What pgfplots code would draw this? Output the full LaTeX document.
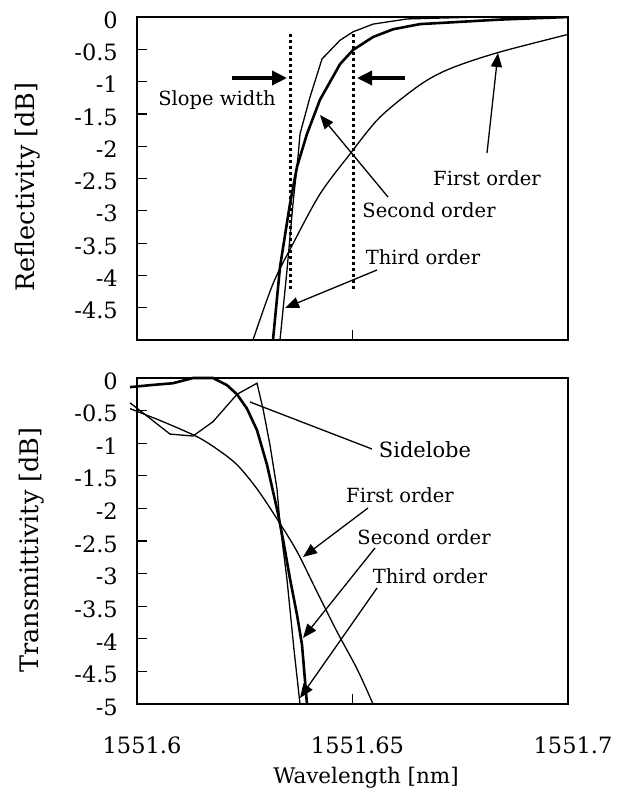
\documentclass[border=0pt]{standalone}
\usepackage{pgfplots}
\pgfplotsset{compat=1.18}
\usepackage{fontspec}
\setmainfont{DejaVu Serif}
\usetikzlibrary{arrows.meta}

% wavelengths are given as 1551.xxxx; the integer part is stripped as a string
% so that TeX keeps full precision on the 0.1 nm wide axis
\makeatletter
\def\wlstr#1.#2.#3\relax{%
  \def\wlint{#1}\def\wlfrac{#2}%
  \ifx\wlfrac\empty\def\wlfrac{0}\fi
  \ifnum\wlint=1551 \edef\pgfmathresult{0.\wlfrac}\else\edef\pgfmathresult{\wlint.\wlfrac}\fi}
\def\wlfpusplit#1Y#2e#3]#4\relax{%
  \def\wlflag{#1}\def\wlexp{#3}%
  \ifnum\wlflag=1 \ifnum\wlexp=3 \wlmant#2\relax\else\wlfallback\fi\else\wlfallback\fi}
\def\wlmant#1.#2#3#4#5\relax{%
  \ifnum#1#2#3#4=1551 \def\wlfrac{#5}\ifx\wlfrac\empty\def\wlfrac{0}\fi
     \edef\pgfmathresult{0.\wlfrac}\else\wlfallback\fi}
\def\wlfallback{\pgfmathfloattofixed{\wltmp}}
\def\wltrafo#1{%
  \edef\wltmp{#1}%
  \expandafter\pgfutil@in@\expandafter Y\expandafter{\wltmp}%
  \ifpgfutil@in@
    \expandafter\wlfpusplit\wltmp\relax
  \else
    \expandafter\wlstr\wltmp..\relax
  \fi}
\makeatother
\pgfplotsset{
  x coord trafo/.code={\wltrafo{#1}},
  x coord inv trafo/.code={\pgfmathparse{#1+1551}},
}

\pgfplotsset{
  common/.style={
    scale only axis, width=431pt,
    xmin=1551.6, xmax=1551.7, ymin=-5, ymax=0,
    tick align=inside, major tick length=10pt,
    xtick pos=bottom, ytick pos=left,
    axis line style={line width=1.4pt},
    every tick/.style={line width=1.2pt, black},
    yticklabel style={font=\fontsize{22.5}{25}\selectfont, anchor=east, inner sep=0pt, xshift=-19pt, yshift=-3pt},
    xticklabel style={font=\fontsize{22.5}{25}\selectfont, anchor=center, inner sep=0pt, yshift=-41pt, xshift=5pt},
  },
  thin/.style={black, line width=1.3pt},
  thick/.style={black, line width=2.6pt},
}

\tikzset{
  ann/.style={font=\fontsize{19.5}{22}\selectfont, inner sep=0pt},
  arr/.style={line width=1.3pt, -{Triangle[length=14pt,width=11pt]}},
  sarr/.style={line width=3.4pt, -{Triangle[length=15pt,width=14pt]}},
}

\begin{document}
\begin{tikzpicture}[x=1pt,y=1pt]
\useasboundingbox (0,0) rectangle (622,-789);

% ---------------- Reflectivity ----------------
\begin{axis}[common, at={(137pt,-340pt)}, anchor=south west, height=323pt,
  xtick={1551.65}, xticklabels={},
  ytick={-4.5,-4,-3.5,-3,-2.5,-2,-1.5,-1,-0.5,0},
  yticklabels={-4.5,-4,-3.5,-3,-2.5,-2,-1.5,-1,-0.5,0}]
% First order
\addplot[thin, smooth, tension=0.5] coordinates {
 (1551.62691,-5.00) (1551.63155,-4.13) (1551.63619,-3.51) (1551.64246,-2.74)
 (1551.64942,-2.12) (1551.65638,-1.55) (1551.66566,-1.05) (1551.67262,-0.80)
 (1551.68376,-0.55) (1551.70000,-0.27)};
% Second order
\addplot[thick] coordinates {
 (1551.63155,-5.00) (1551.63318,-3.87) (1551.63550,-2.89) (1551.63712,-2.32)
 (1551.63944,-1.81) (1551.64246,-1.28) (1551.64710,-0.73) (1551.65012,-0.51)
 (1551.65476,-0.31) (1551.65940,-0.19) (1551.66566,-0.11) (1551.68422,-0.04)
 (1551.70000,0.00)};
% Third order
\addplot[thin] coordinates {
 (1551.63318,-5.00) (1551.63480,-3.92) (1551.63619,-2.89) (1551.63735,-2.17)
 (1551.63782,-1.81) (1551.64014,-1.24) (1551.64292,-0.65) (1551.64710,-0.36)
 (1551.65012,-0.23) (1551.65476,-0.11) (1551.66265,-0.03) (1551.68000,0.00)
 (1551.70000,0.00)};
\end{axis}

% ---------------- Transmittivity ----------------
\begin{axis}[common, at={(137pt,-704pt)}, anchor=south west, height=326pt, clip=false,
  xtick={1551.6,1551.65,1551.7}, xticklabels={1551.6,1551.65,1551.7},
  ytick={-5,-4.5,-4,-3.5,-3,-2.5,-2,-1.5,-1,-0.5,0},
  yticklabels={-5,-4.5,-4,-3.5,-3,-2.5,-2,-1.5,-1,-0.5,0}]
% First order
\addplot[thin, smooth, tension=0.5] coordinates {
 (1551.59838,-0.47) (1551.60603,-0.67) (1551.61392,-0.90) (1551.61856,-1.09)
 (1551.62320,-1.33) (1551.62784,-1.70) (1551.63248,-2.16) (1551.63712,-2.66)
 (1551.64176,-3.28) (1551.64640,-3.89) (1551.65104,-4.46) (1551.65476,-5.00)};
% Second order
\addplot[thick] coordinates {
 (1551.59838,-0.14) (1551.60302,-0.11) (1551.60835,-0.08) (1551.61299,0.00)
 (1551.61763,0.00) (1551.62088,-0.11) (1551.62320,-0.25) (1551.62552,-0.47)
 (1551.62784,-0.80) (1551.63016,-1.33) (1551.63248,-2.01) (1551.63387,-2.47)
 (1551.63550,-3.08) (1551.63712,-3.63) (1551.63828,-4.09) (1551.63944,-5.00)};
% Third order
\addplot[thin] coordinates {
 (1551.59838,-0.38) (1551.60766,-0.86) (1551.61299,-0.89) (1551.61763,-0.67)
 (1551.62320,-0.25) (1551.62784,-0.08) (1551.62923,-0.47) (1551.63086,-1.03)
 (1551.63248,-1.70) (1551.63318,-2.24) (1551.63480,-3.09) (1551.63643,-4.17)
 (1551.63782,-5.00)};
\end{axis}

% ---------------- labels ----------------
\node[rotate=90, font=\fontsize{25.5}{28}\selectfont] at (28,-187) {Reflectivity [dB]};
\node[rotate=90, font=\fontsize{25.5}{28}\selectfont] at (32,-550) {Transmittivity [dB]};
\node[font=\fontsize{21.5}{24}\selectfont, anchor=base] at (366,-783) {Wavelength [nm]};

% ---------------- annotations (top) ----------------
\draw[line width=3pt, dash pattern=on 3pt off 3pt] (290,-34) -- (290,-289);
\draw[line width=3pt, dash pattern=on 3pt off 3pt] (353,-34) -- (353,-289);
\draw[sarr] (232,-78) -- (287,-78);
\draw[sarr] (405,-78) -- (357,-78);
\node[ann] at (217,-100) {Slope width};
\node[ann] at (487,-178) {First order};
\draw[arr] (487,-153) -- (498,-53);
\node[ann] at (429,-210) {Second order};
\draw[arr] (388,-197) -- (320,-115);
\node[ann] at (423,-257) {Third order};
\draw[arr] (377,-270) -- (285,-308);

% ---------------- annotations (bottom) ----------------
\node[ann, font=\fontsize{21}{24}\selectfont] at (425,-450) {Sidelobe};
\draw[line width=1.3pt] (372,-449) -- (250,-402);
\node[ann] at (400,-495) {First order};
\draw[arr] (368,-508) -- (303,-557);
\node[ann] at (424,-537) {Second order};
\draw[arr] (375,-548) -- (303,-638);
\node[ann] at (430,-576) {Third order};
\draw[arr] (377,-588) -- (300,-698);
\end{tikzpicture}
\end{document}
